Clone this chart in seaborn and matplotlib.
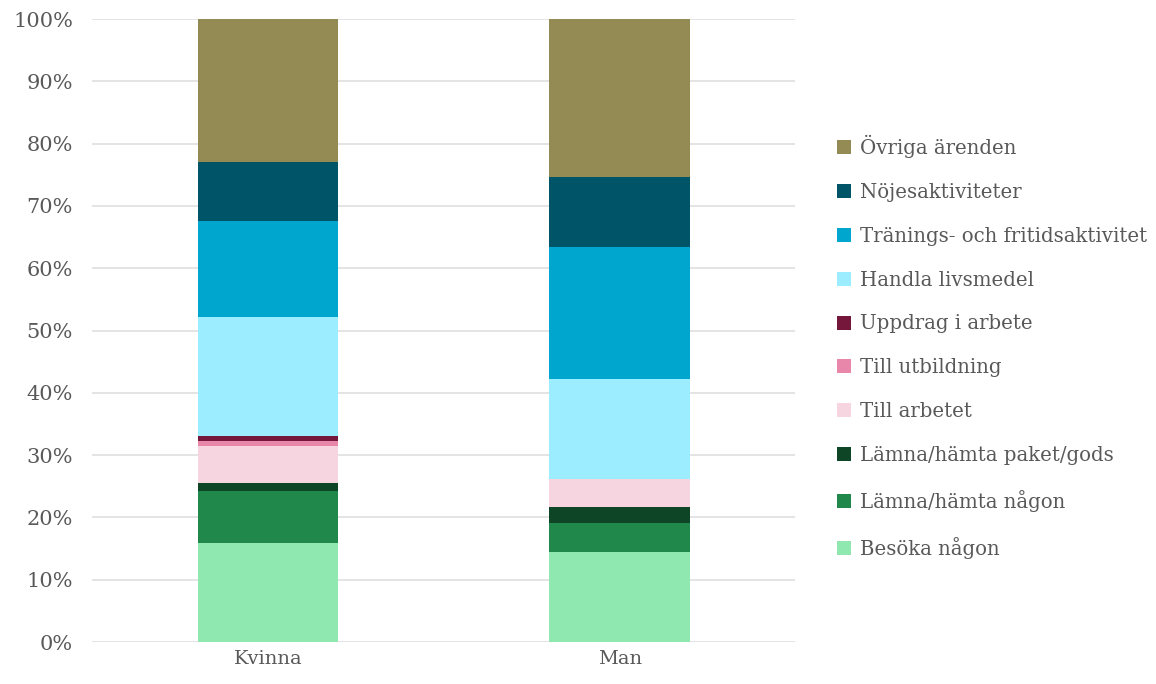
import pandas as pd
import numpy as np
import matplotlib
matplotlib.use("Agg")
import matplotlib.pyplot as plt
import seaborn as sns
from matplotlib.patches import Patch

GROUPS = ['Kvinna', 'Man']
CATEGORIES = ['Besöka någon', 'Lämna/hämta någon', 'Lämna/hämta paket/gods',
              'Till arbetet', 'Till utbildning', 'Uppdrag i arbete',
              'Handla livsmedel', 'Tränings- och fritidsaktivitet',
              'Nöjesaktiviteter', 'Övriga ärenden']
KVINNA = [15.9, 8.3, 1.4, 5.8, 0.9, 0.8, 19.1, 15.4, 9.4, 23.0]
MAN = [14.4, 4.7, 2.6, 4.5, 0.0, 0.0, 16.0, 21.2, 11.2, 25.4]
COLORS = ['#90E8B1', '#1F884A', '#0E4526', '#F6D5E0', '#E987AA',
          '#74173A', '#9BEDFF', '#00A6CE', '#005468', '#938A54']

sns.set_style("white")
plt.rcParams['font.family'] = ['DejaVu Serif']
TEXT = '#595959'

df = pd.DataFrame({'Kvinna': KVINNA, 'Man': MAN}, index=CATEGORIES)
cum = df.cumsum()
cum = cum / cum.iloc[-1] * 100

fig = plt.figure(figsize=(11.56, 6.84), dpi=100)
ax = fig.add_axes([0.080, 0.0614, 0.608, 0.9108])

# draw from top of stack down so each lower segment covers the one above
for cat, col in reversed(list(zip(CATEGORIES, COLORS))):
    row = pd.DataFrame({'grupp': GROUPS, 'värde': cum.loc[cat, GROUPS].values})
    sns.barplot(data=row, x='grupp', y='värde', color=col, width=0.4,
                saturation=1, linewidth=0, edgecolor='none', ax=ax, zorder=3)

ax.set_ylim(0, 100)
ax.set_xlim(-0.5, 1.5)
ax.set_yticks(np.arange(0, 101, 10))
ax.set_yticklabels([f'{v}%' for v in range(0, 101, 10)])
ax.set_xlabel('')
ax.set_ylabel('')
ax.yaxis.grid(True, color='#DDDDDD', linewidth=1.1, zorder=0)
ax.set_axisbelow(True)
for s in ax.spines.values():
    s.set_visible(False)
ax.tick_params(axis='y', length=0, labelsize=15, colors=TEXT, pad=14)
ax.tick_params(axis='x', length=0, labelsize=14, colors=TEXT, pad=6)

handles = [Patch(facecolor=c, edgecolor='none', label=l)
           for l, c in zip(CATEGORIES, COLORS)][::-1]
fig.legend(handles=handles, loc='center left', bbox_to_anchor=(0.724, 0.493),
           frameon=False, fontsize=14.2, labelcolor=TEXT, handlelength=0.72,
           handleheight=0.72, handletextpad=0.45, labelspacing=1.26,
           borderaxespad=0, borderpad=0)

plt.savefig('out.png', dpi=100)
